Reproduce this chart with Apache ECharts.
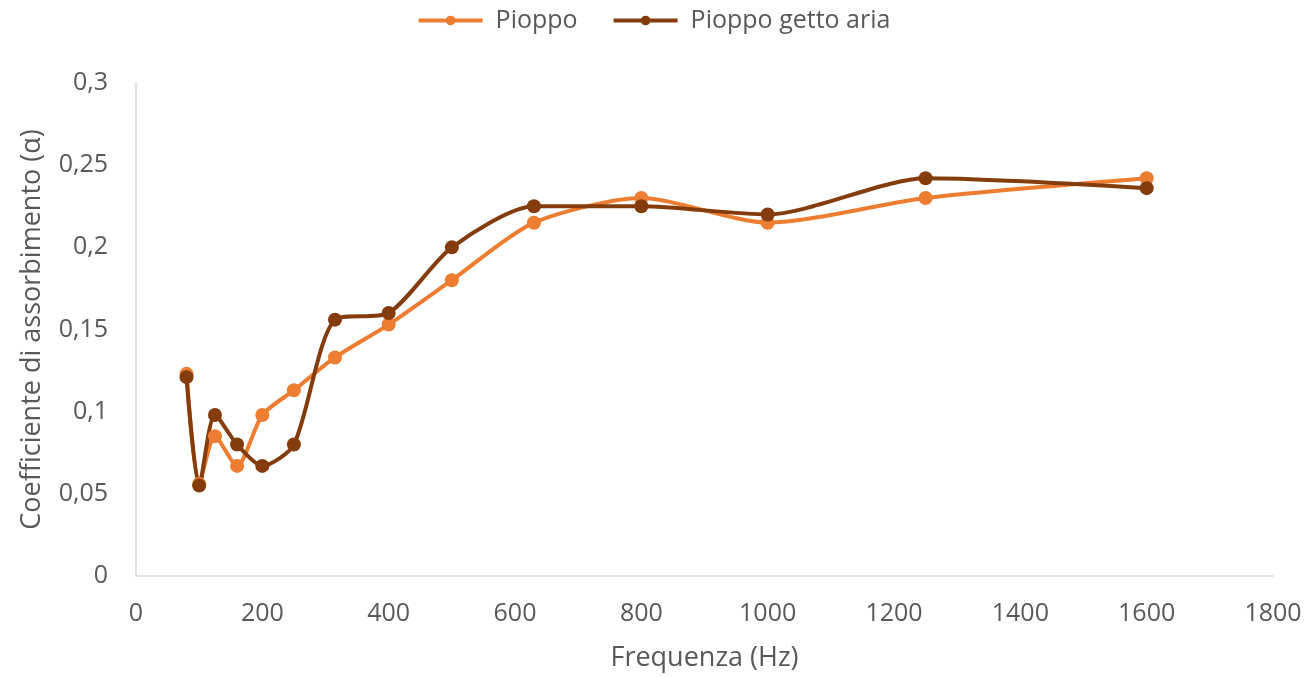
<!DOCTYPE html>
<html>
<head>
<meta charset="utf-8">
<title>Coefficiente di assorbimento</title>
<script src="https://cdn.jsdelivr.net/npm/echarts@6/dist/echarts.min.js"></script>
<style>
  html, body { margin: 0; padding: 0; background: #fff; }
  #chart { width: 1307px; height: 677px; }
</style>
</head>
<body>
<div id="chart"></div>
<script>
// Third-octave band centre frequencies (Hz)
const frequencies = [80, 100, 125, 160, 200, 250, 315, 400, 500, 630, 800, 1000, 1250, 1600];
// Absorption coefficient, plain poplar
const pioppo = [0.123, 0.056, 0.085, 0.067, 0.098, 0.113, 0.133, 0.153, 0.180, 0.215, 0.230, 0.215, 0.230, 0.242];
// Absorption coefficient, poplar with air jet treatment
const pioppoGettoAria = [0.121, 0.055, 0.098, 0.080, 0.067, 0.080, 0.156, 0.160, 0.200, 0.225, 0.225, 0.220, 0.242, 0.236];

const seriesNames = ['Pioppo', 'Pioppo getto aria'];
const seriesColors = ['#ED7D31', '#843C0C'];

const pair = (ys) => frequencies.map((f, i) => [f, ys[i]]);
const comma = (v) => String(v).replace('.', ',');
const fontFamily = '"Open Sans", Lato, sans-serif';
const textColor = '#595959';

const chart = echarts.init(document.getElementById('chart'));
chart.setOption({
  animation: false,
  textStyle: { fontFamily: fontFamily },
  legend: {
    top: 3,
    left: 'center',
    itemWidth: 64,
    itemHeight: 12,
    itemGap: 34,
    lineStyle: { width: 4 },
    textStyle: { fontSize: 25, color: textColor, fontFamily: fontFamily, padding: [0, 0, 0, 8] },
    data: seriesNames
  },
  grid: { left: 136, right: 34, top: 83, bottom: 100, containLabel: false },
  xAxis: {
    type: 'value',
    min: 0, max: 1800, interval: 200,
    name: 'Frequenza (Hz)',
    nameLocation: 'middle',
    nameGap: 69,
    nameTextStyle: { fontSize: 27, color: textColor, fontFamily: fontFamily },
    axisLine: { show: true, lineStyle: { color: '#d9d9d9', width: 1.5 } },
    axisTick: { show: false },
    splitLine: { show: false },
    axisLabel: { fontSize: 25, color: textColor, margin: 25, formatter: (v) => comma(v) }
  },
  yAxis: {
    type: 'value',
    min: 0, max: 0.3, interval: 0.05,
    name: 'Coefficiente di assorbimento (α)',
    nameLocation: 'middle',
    nameGap: 90,
    nameTextStyle: { fontSize: 27, color: textColor, fontFamily: fontFamily },
    axisLine: { show: true, lineStyle: { color: '#d9d9d9', width: 1.5 } },
    axisTick: { show: false },
    splitLine: { show: false },
    axisLabel: { fontSize: 25, color: textColor, margin: 28, formatter: (v) => comma(+v.toFixed(2)) }
  },
  series: [
    {
      name: seriesNames[0],
      type: 'line',
      smooth: 0.25,
      data: pair(pioppo),
      symbol: 'circle',
      symbolSize: 14,
      color: seriesColors[0],
      lineStyle: { width: 4, color: seriesColors[0] },
      itemStyle: { color: seriesColors[0] }
    },
    {
      name: seriesNames[1],
      type: 'line',
      smooth: 0.25,
      data: pair(pioppoGettoAria),
      symbol: 'circle',
      symbolSize: 14,
      color: seriesColors[1],
      lineStyle: { width: 4, color: seriesColors[1] },
      itemStyle: { color: seriesColors[1] }
    }
  ]
});
</script>
</body>
</html>
